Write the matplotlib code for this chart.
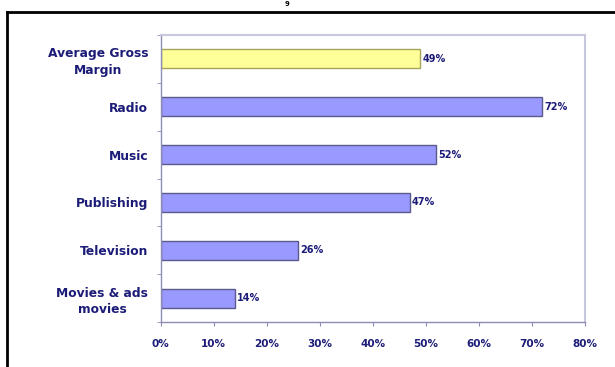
import numpy as np
import matplotlib
matplotlib.use('Agg')
import matplotlib.pyplot as plt
from matplotlib.lines import Line2D
from matplotlib.ticker import FixedLocator

# gross margin by segment, top to bottom
categories = ['Average Gross\nMargin', 'Radio', 'Music', 'Publishing',
              'Television', 'Movies & ads\nmovies']
margins = [49, 72, 52, 47, 26, 14]
bar_colors = ['#ffff99', '#9999ff', '#9999ff', '#9999ff', '#9999ff', '#9999ff']
edge_colors = ['#a6a65a', '#5a5a8c', '#5a5a8c', '#5a5a8c', '#5a5a8c', '#5a5a8c']
xticks = [0, 10, 20, 30, 40, 50, 60, 70, 80]
xlabels = ['0%', '10%', '20%', '30%', '40%', '50%', '60%', '70%', '80%']

navy = '#1c1c78'
plt.rcParams['font.family'] = ['DejaVu Sans']

fig = plt.figure(figsize=(6.15, 3.67), dpi=100)
fig.patch.set_facecolor('white')
ax = fig.add_axes([0.2613, 0.1226, 0.6894, 0.782])

pos = np.arange(len(categories))
ax.barh(pos, margins, height=0.4, color=bar_colors, edgecolor=edge_colors,
        linewidth=1.0)
for p, v in zip(pos, margins):
    ax.text(v + 0.4, p, '%d%%' % v, va='center', ha='left', fontsize=7,
            fontweight='bold', color=navy)

ax.set_xlim(0, 80)
ax.set_ylim(len(categories) - 0.5, -0.5)
ax.set_xticks(xticks)
ax.set_xticklabels(xlabels, fontsize=7.5, fontweight='bold', color=navy)
ax.set_yticks(pos)
ax.set_yticklabels(categories, fontsize=8.8, fontweight='bold', color=navy,
                   linespacing=1.35, multialignment='center')
ax.yaxis.set_minor_locator(FixedLocator(np.arange(-0.5, len(categories), 1.0)))
ax.tick_params(axis='y', which='major', length=0, pad=9)
ax.tick_params(axis='y', which='minor', length=3, color='#8c8cb4', direction='out')
ax.tick_params(axis='x', length=3, color='#8c8cb4', direction='out', pad=9)

for side in ['left', 'bottom']:
    ax.spines[side].set_color('#8c8cb4')
    ax.spines[side].set_linewidth(1.0)
for side in ['top', 'right']:
    ax.spines[side].set_color('#c8c8dc')
    ax.spines[side].set_linewidth(1.5)

# page frame: top rule and left rule
W, H = 615.0, 367.0
fig.add_artist(Line2D([7 / W, 1.0], [1 - 12 / H, 1 - 12 / H], color='black',
                      linewidth=2.0, transform=fig.transFigure))
fig.add_artist(Line2D([7 / W, 7 / W], [1 - 12 / H, 0.0], color='black',
                      linewidth=2.0, transform=fig.transFigure))
fig.text(287 / W, 1 - 4 / H, '9', fontsize=5, fontweight='bold', ha='center',
         va='center', color='black')

fig.savefig('out.png', dpi=100)
